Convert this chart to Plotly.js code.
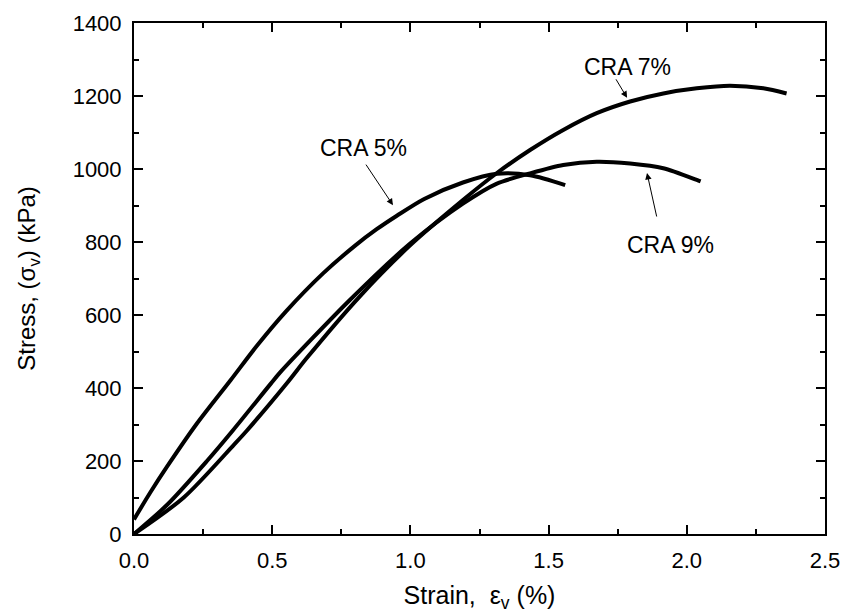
<!DOCTYPE html>
<html>
<head>
<meta charset="utf-8">
<script src="https://cdn.plot.ly/plotly-3.0.1.min.js"></script>
<style>html,body{margin:0;padding:0;background:#fff;}#chart{width:845px;height:614px;}</style>
</head>
<body>
<div id="chart"></div>
<script>
// Strain (%) and stress (kPa)
const cra5Strain = [0, 0.06, 0.12, 0.227, 0.35, 0.444, 0.55, 0.684, 0.8, 0.878, 0.951, 1.05, 1.19, 1.313, 1.433, 1.56];
const cra5Stress = [40, 115, 185, 302, 422, 515, 610, 714, 790, 835, 872, 918, 963, 987, 983, 956];

const cra7Strain = [0, 0.18, 0.362, 0.408, 0.553, 0.625, 0.818, 0.998, 1.19, 1.313, 1.433, 1.553, 1.674, 1.795, 1.915, 2.036, 2.156, 2.277, 2.361];
const cra7Stress = [0, 100, 245, 283, 413, 482, 652, 790, 915, 989, 1052, 1107, 1153, 1185, 1207, 1221, 1228, 1221, 1207];

const cra9Strain = [0, 0.12, 0.264, 0.359, 0.495, 0.528, 0.781, 0.998, 1.19, 1.313, 1.433, 1.553, 1.674, 1.795, 1.915, 2.036, 2.05];
const cra9Stress = [0, 80, 200, 285, 412, 442, 641, 795, 905, 960, 988, 1011, 1020, 1015, 1002, 970, 966];

const labels = ["CRA 5%", "CRA 7%", "CRA 9%"];
const labelPos = [[0.829, 1058], [1.784, 1279], [1.94, 792]];
const arrowTips = [[0.937, 901], [1.784, 1195], [1.856, 989]];
const arrowOffsets = [[-28, -42], [-12, -20], [10, 45]];

const lineStyle = {color: '#000', width: 4, shape: 'spline', smoothing: 0.8};
const traces = [
  {x: cra5Strain, y: cra5Stress, mode: 'lines', line: lineStyle, name: labels[0]},
  {x: cra7Strain, y: cra7Stress, mode: 'lines', line: lineStyle, name: labels[1]},
  {x: cra9Strain, y: cra9Stress, mode: 'lines', line: lineStyle, name: labels[2]}
];

const font = 'Liberation Sans, Arial, sans-serif';
const annotations = [];
labels.forEach((t, i) => {
  annotations.push({x: labelPos[i][0], y: labelPos[i][1], xref: 'x', yref: 'y', text: t,
    showarrow: false, font: {family: font, size: 23, color: '#000'}});
  annotations.push({x: arrowTips[i][0], y: arrowTips[i][1], xref: 'x', yref: 'y', text: '',
    showarrow: true, ax: arrowOffsets[i][0], ay: arrowOffsets[i][1],
    arrowhead: 2, arrowsize: 1.3, arrowwidth: 1, arrowcolor: '#000'});
});

const axisCommon = {
  showline: true, linecolor: '#000', linewidth: 2, mirror: 'ticks',
  ticks: 'inside', ticklen: 9, tickwidth: 2, tickcolor: '#000',
  showgrid: false, zeroline: false,
  tickfont: {family: font, size: 22, color: '#000'},
  ticklabelstandoff: 6
};

const layout = {
  width: 845, height: 614,
  margin: {l: 134, r: 20, t: 23, b: 80},
  paper_bgcolor: '#fff', plot_bgcolor: '#fff',
  showlegend: false,
  xaxis: Object.assign({}, axisCommon, {
    range: [0, 2.5], dtick: 0.5, tick0: 0, tickformat: '.1f',
    minor: {dtick: 0.25, ticks: 'inside', ticklen: 5, tickwidth: 2, tickcolor: '#000'},
    title: {text: 'Strain,  ε<sub>v</sub> (%)', font: {family: font, size: 25, color: '#000'}, standoff: 14}
  }),
  yaxis: Object.assign({}, axisCommon, {
    range: [0, 1400], dtick: 200, tick0: 0,
    minor: {dtick: 100, ticks: 'inside', ticklen: 5, tickwidth: 2, tickcolor: '#000'},
    title: {text: 'Stress, (σ<sub>v</sub>) (kPa)', font: {family: font, size: 24, color: '#000'}, standoff: 30}
  }),
  annotations: annotations
};

Plotly.newPlot('chart', traces, layout, {staticPlot: true, displayModeBar: false});
</script>
</body>
</html>
